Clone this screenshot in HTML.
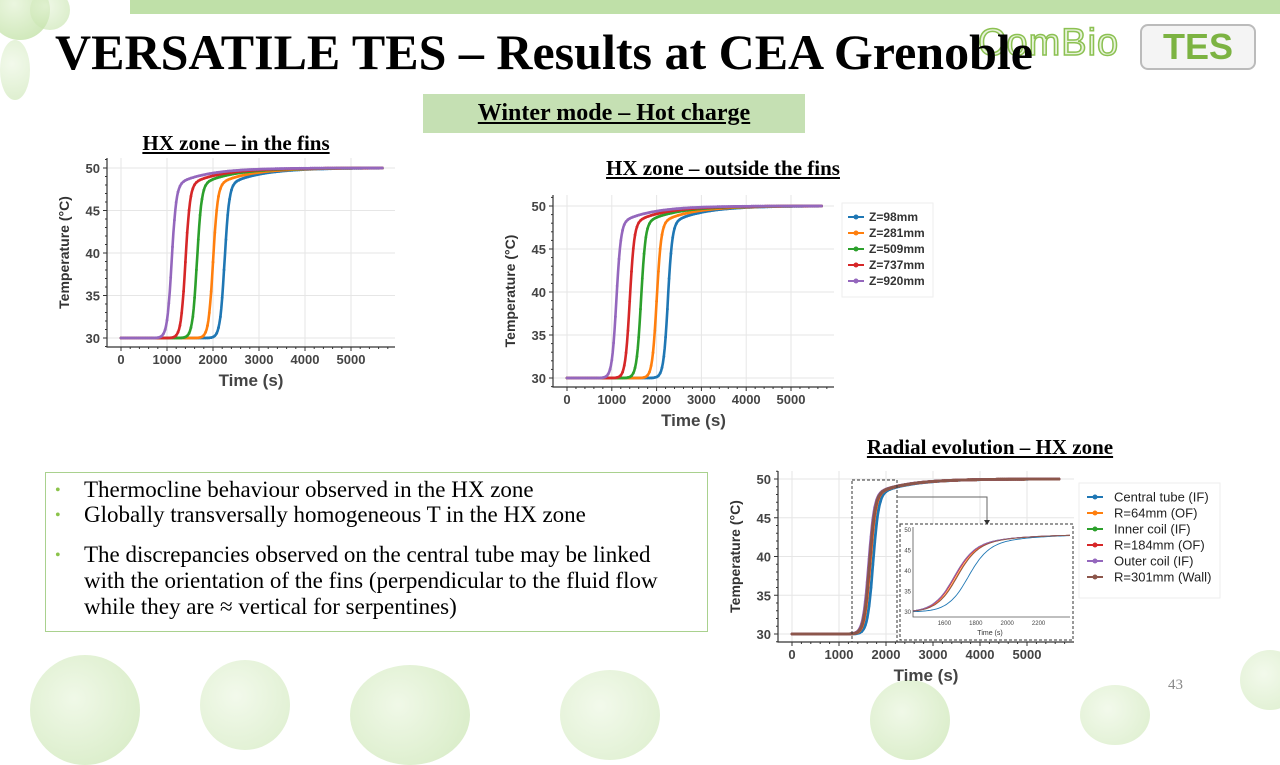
<!DOCTYPE html>
<html><head><meta charset="utf-8"><style>
body{margin:0;width:1280px;height:720px;overflow:hidden;background:#fff;position:relative;font-family:"Liberation Serif",serif}
.a{position:absolute}
.sub{position:absolute;font-weight:bold;text-decoration:underline;font-size:21px;white-space:nowrap;transform:translateX(-50%)}
.bt{position:absolute;left:84px;font-size:23px;line-height:26px;white-space:nowrap}
.bl{position:absolute;left:55px;color:#8bc34a;font-size:16px}
.bub{position:absolute;border-radius:50%;background:radial-gradient(circle at 40% 40%,#e6f4d8,#b9dd9a)}
</style></head><body>
<div class="a" style="left:130px;top:0;width:1150px;height:14px;background:#bfe0a8"></div>
<div class="bub" style="left:-10px;top:-20px;width:60px;height:60px;opacity:.8"></div>
<div class="bub" style="left:30px;top:-10px;width:40px;height:40px;opacity:.6"></div>
<div class="bub" style="left:0;top:40px;width:30px;height:60px;opacity:.5"></div>
<div class="bub" style="left:30px;top:655px;width:110px;height:110px;opacity:.6"></div>
<div class="bub" style="left:200px;top:660px;width:90px;height:90px;opacity:.5"></div>
<div class="bub" style="left:350px;top:665px;width:120px;height:100px;opacity:.6"></div>
<div class="bub" style="left:560px;top:670px;width:100px;height:90px;opacity:.5"></div>
<div class="bub" style="left:870px;top:680px;width:80px;height:80px;opacity:.6"></div>
<div class="bub" style="left:1080px;top:685px;width:70px;height:60px;opacity:.5"></div>
<div class="bub" style="left:1240px;top:650px;width:60px;height:60px;opacity:.5"></div>
<div class="a" style="left:978px;top:22px;font-family:'Liberation Sans',sans-serif;font-size:38px;color:#e8f3dc;-webkit-text-stroke:1.5px #8cc152;letter-spacing:1px">ComBio</div>
<div class="a" style="left:1140px;top:24px;width:112px;height:42px;border:2px solid #bbb;border-radius:8px;background:#f4f4f4;font-family:'Liberation Sans',sans-serif;font-size:36px;font-weight:bold;color:#7cb342;text-align:center;line-height:42px">TES</div>
<div class="a" style="left:55px;top:23px;font-size:50px;font-weight:bold;white-space:nowrap">VERSATILE TES – Results at CEA Grenoble</div>
<div class="a" style="left:423px;top:94px;width:382px;height:39px;background:#c5e0b3;text-align:center;line-height:39px;font-size:24px;font-weight:bold;text-decoration:underline">Winter mode – Hot charge</div>
<div class="sub" style="left:236px;top:131px">HX zone – in the fins</div>
<div class="sub" style="left:723px;top:156px">HX zone – outside the fins</div>
<div class="sub" style="left:990px;top:435px">Radial evolution – HX zone</div>
<div class="a" style="left:45px;top:472px;width:661px;height:158px;border:1px solid #a9d18e"></div>
<div class="bl" style="top:482px">•</div><div class="bt" style="top:477px">Thermocline behaviour observed in the HX zone</div>
<div class="bl" style="top:507px">•</div><div class="bt" style="top:502px">Globally transversally homogeneous T in the HX zone</div>
<div class="bl" style="top:547px">•</div><div class="bt" style="top:542px">The discrepancies observed on the central tube may be linked<br>with the orientation of the fins (perpendicular to the fluid flow<br>while they are ≈ vertical for serpentines)</div>
<div class="a" style="left:1168px;top:677px;color:#888;font-size:15px">43</div>
<svg id="s" class="a" style="left:0;top:0" width="1280" height="720" font-family="Liberation Sans,sans-serif"></svg>
<script>
var S=document.getElementById('s'),h='';
var C=['#1f77b4','#ff7f0e','#2ca02c','#d62728','#9467bd','#8c564b'];
function sig(x){return 1/(1+Math.exp(-x))}
function T(t,m,k){var s=sig((t-m)/k);return 30+17.5*s+2.5*s*(1-Math.exp(-Math.max(0,t-m+100)/700))}
function chart(o){
 var X=function(t){return o.x0+t*o.sx},Y=function(v){return o.y30-(v-30)*o.sy};
 h+='<rect x="'+o.l+'" y="'+o.t+'" width="'+(o.r-o.l)+'" height="'+(o.b-o.t)+'" fill="#fff"/>';
 for(var t=0;t<=5000;t+=1000)h+='<line x1="'+X(t)+'" x2="'+X(t)+'" y1="'+o.t+'" y2="'+o.b+'" stroke="#e6e6e6"/>';
 for(var v=30;v<=50;v+=5)h+='<line x1="'+o.l+'" x2="'+o.r+'" y1="'+Y(v)+'" y2="'+Y(v)+'" stroke="#e6e6e6"/>';
 h+='<path d="M'+o.l+' '+o.t+'V'+o.b+'H'+o.r+'" fill="none" stroke="#333" stroke-width="1.2"/>';
 for(var t=0;t<=5800;t+=200)h+='<line x1="'+X(t)+'" x2="'+X(t)+'" y1="'+o.b+'" y2="'+(o.b+(t%1000?2:4))+'" stroke="#333"/>';
 for(var v=29;v<=51;v+=1)h+='<line x1="'+o.l+'" x2="'+(o.l-(v%5?2:4))+'" y1="'+Y(v)+'" y2="'+Y(v)+'" stroke="#333"/>';
 for(var t=0;t<=5000;t+=1000)h+='<text x="'+X(t)+'" y="'+(o.b+17)+'" font-size="13" font-weight="bold" fill="#444" text-anchor="middle">'+t+'</text>';
 for(var v=30;v<=50;v+=5)h+='<text x="'+(o.l-7)+'" y="'+(Y(v)+5)+'" font-size="13" font-weight="bold" fill="#444" text-anchor="end">'+v+'</text>';
 h+='<text x="'+((o.l+o.r)/2)+'" y="'+(o.b+39)+'" font-size="17" font-weight="bold" fill="#444" text-anchor="middle">Time (s)</text>';
 h+='<text transform="translate('+(o.l-38)+','+((o.t+o.b)/2)+') rotate(-90)" font-size="14" font-weight="bold" fill="#333" text-anchor="middle">Temperature (°C)</text>';
 o.m.forEach(function(m,i){var d='';for(var t=0;t<=5700;t+=20)d+=(t?'L':'M')+X(t).toFixed(1)+' '+Y(T(t,m,o.k)).toFixed(1);
  h+='<path d="'+d+'" fill="none" stroke="'+o.c[i]+'" stroke-width="'+(o.w||2.6)+'"/>';
  for(var t=0;t<=5700;t+=40)h+='<circle cx="'+X(t).toFixed(1)+'" cy="'+Y(T(t,m,o.k)).toFixed(1)+'" r="1.4" fill="'+o.c[i]+'"/>';});
}
chart({l:107,r:395,t:158,b:347,x0:121,sx:.046,y30:338,sy:8.5,m:[2250,2000,1650,1400,1100],k:50,c:C});
chart({l:553,r:834,t:195,b:387,x0:567,sx:.0448,y30:378,sy:8.6,m:[2250,2000,1650,1400,1100],k:50,c:C});
chart({l:778,r:1074,t:471,b:642,x0:792,sx:.047,y30:634,sy:7.75,m:[1720,1660,1640,1650,1630,1645],k:60,c:C,w:2.8});
h+='<rect x="842" y="203" width="91" height="94" fill="#fff" stroke="#eee"/>';
['Z=98mm','Z=281mm','Z=509mm','Z=737mm','Z=920mm'].forEach(function(s,i){var y=217+16*i;
 h+='<line x1="848" x2="864" y1="'+y+'" y2="'+y+'" stroke="'+C[i]+'" stroke-width="2"/><circle cx="856" cy="'+y+'" r="2.5" fill="'+C[i]+'"/><text x="869" y="'+(y+4)+'" font-size="12" font-weight="bold" fill="#333">'+s+'</text>';});
h+='<rect x="1079" y="483" width="141" height="115" fill="#fff" stroke="#eee"/>';
['Central tube (IF)','R=64mm (OF)','Inner coil (IF)','R=184mm (OF)','Outer coil (IF)','R=301mm (Wall)'].forEach(function(s,i){var y=497+16*i;
 h+='<line x1="1087" x2="1103" y1="'+y+'" y2="'+y+'" stroke="'+C[i]+'" stroke-width="2"/><circle cx="1095" cy="'+y+'" r="2.5" fill="'+C[i]+'"/><text x="1114" y="'+(y+4.5)+'" font-size="13" fill="#222">'+s+'</text>';});
h+='<rect x="852" y="480" width="45" height="162" fill="none" stroke="#333" stroke-dasharray="3,2"/>';
h+='<path d="M897 497H987V522" fill="none" stroke="#666"/><path d="M984 520L990 520L987 525Z" fill="#333"/>';
h+='<rect x="900" y="524" width="173" height="116" fill="#fff" stroke="#333" stroke-dasharray="3,2"/>';
h+='<path d="M913 527V617H1070" fill="none" stroke="#555" stroke-width=".8"/>';
var ix=function(t){return 913+(t-1400)*0.157},iy=function(v){return 612-(v-30)*4.1};
[30,35,40,45,50].forEach(function(v){h+='<text x="911" y="'+(iy(v)+2)+'" font-size="6" fill="#444" text-anchor="end">'+v+'</text>'});
[1600,1800,2000,2200].forEach(function(t){h+='<text x="'+ix(t)+'" y="625" font-size="6" fill="#444" text-anchor="middle">'+t+'</text>'});
h+='<text x="990" y="635" font-size="7" fill="#333" text-anchor="middle">Time (s)</text>';
[[1740,0],[1665,1],[1650,2],[1655,3],[1650,4],[1670,5]].forEach(function(a){var d='';for(var t=1400;t<=2400;t+=10){var s=sig((t-a[0])/65);var v=30+15*s+4*s*(1-Math.exp(-Math.max(0,t-a[0]+50)/300));d+=(t>1400?'L':'M')+ix(t).toFixed(1)+' '+iy(v).toFixed(1);}
 h+='<path d="'+d+'" fill="none" stroke="'+C[a[1]]+'" stroke-width="0.9"/>';});
S.innerHTML=h;
</script>
</body></html>
